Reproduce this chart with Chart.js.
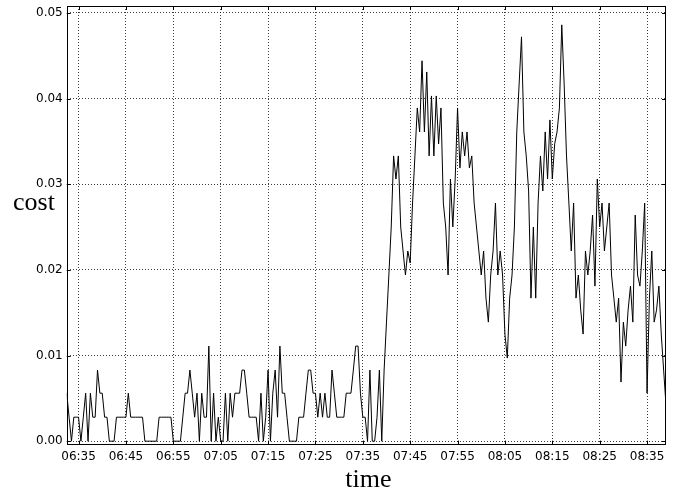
<!DOCTYPE html>
<html>
<head>
<meta charset="utf-8">
<script src="https://cdn.jsdelivr.net/npm/chart.js@4/dist/chart.umd.min.js"></script>
<style>
  html, body { margin: 0; padding: 0; background: #ffffff; }
  #wrap { width: 676px; height: 490px; }
</style>
</head>
<body>
<div id="wrap"><canvas id="c" width="676" height="490"></canvas></div>
<script>
// ---- data ----
const startTime = '06:32:30';
const sampleSeconds = 30;
const cost = [
  0.0056,0.0028,0,0.0028,0.0028,0.0028,0,0.0028,0.0056,0,
  0.0056,0.0028,0.0028,0.0083,0.0056,0.0056,0.0028,0.0028,0,0,
  0,0.0028,0.0028,0.0028,0.0028,0.0028,0.0056,0.0028,0.0028,0.0028,
  0.0028,0.0028,0.0028,0,0,0,0,0,0,0.0028,
  0.0028,0.0028,0.0028,0.0028,0.0028,0,0,0,0,0.0028,
  0.0056,0.0056,0.0083,0.0056,0.0028,0.0056,0,0.0056,0.0028,0.0028,
  0.0111,0,0.0056,0,0.0028,0,0,0.0056,0,0.0056,
  0.0028,0.0056,0.0056,0.0056,0.0083,0.0083,0.0056,0.0028,0.0028,0.0028,
  0.0028,0,0.0056,0,0.0028,0.0083,0,0.0056,0.0083,0.0028,
  0.0111,0.0056,0.0056,0.0028,0,0,0,0,0.0028,0.0028,
  0.0028,0.0056,0.0083,0.0083,0.0056,0.0056,0.0028,0.0056,0.0028,0.0056,
  0.0028,0.0028,0.0083,0.0056,0.0028,0.0028,0.0028,0.0028,0.0056,0.0056,
  0.0056,0.0083,0.0111,0.0111,0.0056,0.0028,0.0028,0,0.0083,0,
  0,0.0028,0.0083,0,0.0083,0.0139,0.0194,0.0250,0.0333,0.0306,
  0.0333,0.0250,0.0222,0.0194,0.0222,0.0208,0.0278,0.0333,0.0389,0.0361,
  0.0444,0.0361,0.0431,0.0333,0.0403,0.0333,0.0403,0.0347,0.0389,0.0278,
  0.0250,0.0194,0.0306,0.0250,0.0306,0.0389,0.0319,0.0361,0.0333,0.0361,
  0.0319,0.0333,0.0278,0.0250,0.0222,0.0194,0.0222,0.0167,0.0139,0.0194,
  0.0222,0.0278,0.0194,0.0222,0.0194,0.0125,0.0097,0.0167,0.0194,0.0250,
  0.0361,0.0417,0.0472,0.0361,0.0333,0.0292,0.0167,0.0250,0.0167,0.0278,
  0.0333,0.0292,0.0361,0.0306,0.0375,0.0306,0.0347,0.0361,0.0389,0.0486,
  0.0417,0.0333,0.0278,0.0222,0.0278,0.0167,0.0194,0.0153,0.0125,0.0222,
  0.0194,0.0222,0.0264,0.0181,0.0306,0.0250,0.0278,0.0222,0.0250,0.0278,
  0.0194,0.0167,0.0139,0.0167,0.0069,0.0139,0.0111,0.0153,0.0181,0.0139,
  0.0264,0.0194,0.0181,0.0222,0.0278,0.0056,0.0167,0.0222,0.0139,0.0153,
  0.0181,0.0125,0.0083,0.0042
];
const xTickLabels = ['06:35','06:45','06:55','07:05','07:15','07:25','07:35','07:45','07:55','08:05','08:15','08:25','08:35'];
const yTickLabels = ['0.00','0.01','0.02','0.03','0.04','0.05'];
const yRange = [-0.0004, 0.0508];
const xTitle = 'time';
const yTitle = 'cost';

// ---- helpers ----
function toMinutes(s) {
  const p = s.split(':').map(Number);
  return p[0] * 60 + p[1] + (p[2] || 0) / 60;
}
function fmtTime(m) {
  const mm = Math.round(m);
  const h = Math.floor(mm / 60), mi = mm % 60;
  return String(h).padStart(2, '0') + ':' + String(mi).padStart(2, '0');
}
const t0 = toMinutes(startTime);
const points = cost.map((v, i) => ({ x: t0 + i * sampleSeconds / 60, y: v }));
const xTickValues = xTickLabels.map(toMinutes);
const yTickValues = yTickLabels.map(Number);

const tickFont = { family: '"DejaVu Sans"', size: 12 };
const gridStyle = { color: 'rgba(0,0,0,0.75)', lineWidth: 1, drawTicks: false };

const framePlugin = {
  id: 'frame',
  afterDraw(chart) {
    const { ctx, chartArea: a, scales } = chart;
    ctx.save();
    ctx.strokeStyle = '#000';
    ctx.lineWidth = 1;
    ctx.setLineDash([]);
    ctx.strokeRect(Math.round(a.left) + 0.5, Math.round(a.top) + 0.5,
                   Math.round(a.right - a.left) - 1, Math.round(a.bottom - a.top) - 1);
    const L = 4;
    ctx.beginPath();
    scales.x.ticks.forEach(t => {
      const px = Math.round(scales.x.getPixelForValue(t.value)) + 0.5;
      ctx.moveTo(px, a.top); ctx.lineTo(px, a.top + L);
      ctx.moveTo(px, a.bottom); ctx.lineTo(px, a.bottom - L);
    });
    scales.y.ticks.forEach(t => {
      const py = Math.round(scales.y.getPixelForValue(t.value)) + 0.5;
      ctx.moveTo(a.left, py); ctx.lineTo(a.left + L, py);
      ctx.moveTo(a.right, py); ctx.lineTo(a.right - L, py);
    });
    ctx.stroke();
    ctx.fillStyle = '#000';
    ctx.font = '26px "Liberation Serif"';
    ctx.textBaseline = 'alphabetic';
    ctx.textAlign = 'left';
    ctx.fillText(yTitle, 13, 210);
    ctx.textAlign = 'center';
    ctx.fillText(xTitle, (a.left + a.right) / 2 + 2, 487);
    ctx.restore();
  }
};

new Chart(document.getElementById('c'), {
  type: 'line',
  data: {
    datasets: [{
      data: points,
      borderColor: '#000',
      borderWidth: 1,
      pointRadius: 0,
      tension: 0,
      fill: false
    }]
  },
  options: {
    responsive: false,
    animation: false,
    devicePixelRatio: 1,
    layout: { padding: { left: 32, right: 10, top: 6, bottom: 21 } },
    plugins: { legend: { display: false }, tooltip: { enabled: false } },
    scales: {
      x: {
        type: 'linear',
        min: points[0].x,
        max: points[points.length - 1].x,
        afterBuildTicks: s => { s.ticks = xTickValues.map(v => ({ value: v })); },
        ticks: {
          autoSkip: false, maxRotation: 0, padding: 5, color: '#000', font: tickFont,
          callback: v => fmtTime(v)
        },
        grid: gridStyle,
        border: { display: false, dash: [1, 2] }
      },
      y: {
        type: 'linear',
        min: yRange[0],
        max: yRange[1],
        afterBuildTicks: s => { s.ticks = yTickValues.map(v => ({ value: v })); },
        afterFit: s => { s.paddingTop = 0; s.paddingBottom = 0; },
        ticks: {
          autoSkip: false, padding: 4, color: '#000', font: tickFont,
          callback: (v, i) => yTickLabels[i]
        },
        grid: gridStyle,
        border: { display: false, dash: [1, 2] }
      }
    }
  },
  plugins: [framePlugin]
});
</script>
</body>
</html>
